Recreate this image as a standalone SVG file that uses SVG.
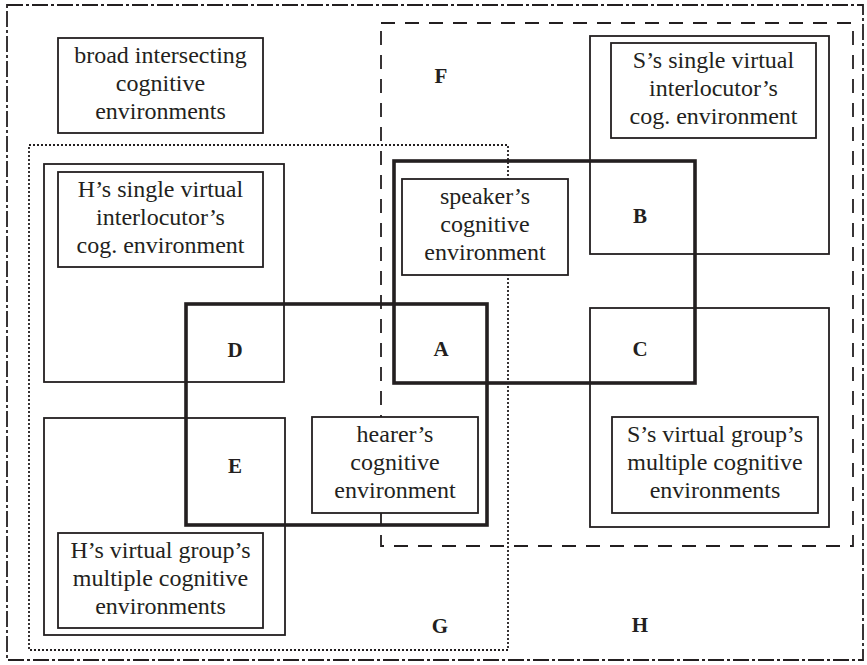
<svg xmlns="http://www.w3.org/2000/svg" width="867" height="665" viewBox="0 0 867 665">
<style>
.t{font-family:"Liberation Serif","Times New Roman",serif;font-size:24px;fill:#231f20;text-anchor:middle}
.l{font-family:"Liberation Serif","Times New Roman",serif;font-size:21px;font-weight:bold;fill:#231f20;text-anchor:middle}
.thin{fill:none;stroke:#231f20;stroke-width:1.8}
.lab{fill:#fff;stroke:#231f20;stroke-width:1.8}
.thick{fill:none;stroke:#231f20;stroke-width:3.6}
.outer{fill:none;stroke:#231f20;stroke-width:1.8;stroke-dasharray:16 3 3 3}
.dash{fill:none;stroke:#231f20;stroke-width:1.8;stroke-dasharray:14 10}
.dot{fill:none;stroke:#231f20;stroke-width:1.8;stroke-dasharray:2 2}
</style>
<rect width="867" height="665" fill="#fff"/>
<g id="regions">
<rect id="H-region" class="outer" x="7" y="5" width="856" height="655"/>
<rect id="F-region" class="dash" x="381" y="23" width="472" height="523"/>
<rect id="G-region" class="dot" x="29" y="145" width="479" height="505"/>
<rect id="H-single" class="thin" x="44" y="164" width="240" height="218"/>
<rect id="H-group" class="thin" x="44" y="418" width="241" height="217"/>
<rect id="S-single" class="thin" x="590" y="36" width="239" height="218"/>
<rect id="S-group" class="thin" x="590" y="308" width="239" height="219"/>
<rect id="hearer" class="thick" x="186" y="304" width="301" height="221"/>
<rect id="speaker" class="thick" x="394" y="161" width="301" height="222"/>
</g>
<g id="node-broad">
<rect class="lab" x="58" y="38" width="205" height="95"/>
<text class="t" x="160.5" y="63">broad intersecting</text>
<text class="t" x="160.5" y="91">cognitive</text>
<text class="t" x="160.5" y="119">environments</text>
</g>
<g id="node-h-single">
<rect class="lab" x="58" y="172" width="205" height="95"/>
<text class="t" x="160.5" y="197">H’s single virtual</text>
<text class="t" x="160.5" y="225">interlocutor’s</text>
<text class="t" x="160.5" y="253">cog. environment</text>
</g>
<g id="node-s-single">
<rect class="lab" x="611" y="43" width="205" height="95"/>
<text class="t" x="713.5" y="68">S’s single virtual</text>
<text class="t" x="713.5" y="96">interlocutor’s</text>
<text class="t" x="713.5" y="124">cog. environment</text>
</g>
<g id="node-speaker">
<rect class="lab" x="402" y="179" width="166" height="96"/>
<text class="t" x="485" y="204">speaker’s</text>
<text class="t" x="485" y="232">cognitive</text>
<text class="t" x="485" y="260">environment</text>
</g>
<g id="node-hearer">
<rect class="lab" x="312" y="417" width="166" height="96"/>
<text class="t" x="395" y="442">hearer’s</text>
<text class="t" x="395" y="470">cognitive</text>
<text class="t" x="395" y="498">environment</text>
</g>
<g id="node-s-group">
<rect class="lab" x="612" y="417" width="206" height="96"/>
<text class="t" x="715" y="442">S’s virtual group’s</text>
<text class="t" x="715" y="470">multiple cognitive</text>
<text class="t" x="715" y="498">environments</text>
</g>
<g id="node-h-group">
<rect class="lab" x="58" y="533" width="205" height="95"/>
<text class="t" x="160.5" y="558">H’s virtual group’s</text>
<text class="t" x="160.5" y="586">multiple cognitive</text>
<text class="t" x="160.5" y="614">environments</text>
</g>
<g id="letters">
<text class="l" x="441" y="83">F</text>
<text class="l" x="640" y="223">B</text>
<text class="l" x="235" y="357">D</text>
<text class="l" x="441" y="356">A</text>
<text class="l" x="640" y="356">C</text>
<text class="l" x="235" y="473">E</text>
<text class="l" x="440" y="633">G</text>
<text class="l" x="640" y="632">H</text>
</g>
<g id="connectors"></g>
</svg>
